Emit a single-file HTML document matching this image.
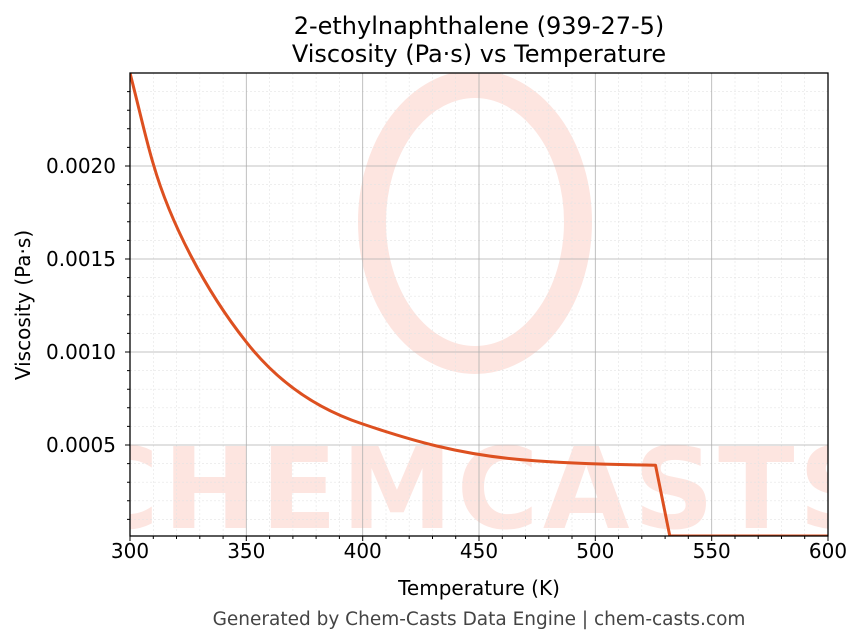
<!DOCTYPE html>
<html><head><meta charset="utf-8"><style>
body{margin:0;background:#fff;}
svg{display:block;font-family:"DejaVu Sans","Liberation Sans",sans-serif;}
</style></head><body>
<svg width="863" height="644" viewBox="0 0 863 644">
<defs><clipPath id="c"><rect x="130" y="73" width="698" height="463"/></clipPath></defs>
<g clip-path="url(#c)">
<ellipse cx="475" cy="222" rx="103" ry="138" fill="none" stroke="#fde5e0" stroke-width="28"/>
<text x="480" y="528" text-anchor="middle" font-size="112" font-weight="bold" fill="#fde5e0" letter-spacing="4">CHEMCASTS</text>
</g>
<g stroke="#e4e4e4" stroke-width="0.6" stroke-dasharray="2,2">
<path d="M153.3 73V536M176.5 73V536M199.8 73V536M223.1 73V536M269.6 73V536M292.9 73V536M316.1 73V536M339.4 73V536M386 73V536M409.2 73V536M432.5 73V536M455.7 73V536M502.3 73V536M525.5 73V536M548.8 73V536M572 73V536M618.6 73V536M641.8 73V536M665.1 73V536M688.3 73V536M735 73V536M758.2 73V536M781.5 73V536M804.7 73V536"/>
<path d="M130 519.4H828M130 500.8H828M130 482.2H828M130 463.6H828M130 426.4H828M130 407.8H828M130 389.2H828M130 370.6H828M130 333.4H828M130 314.8H828M130 296.2H828M130 277.6H828M130 240.4H828M130 221.8H828M130 203.2H828M130 184.6H828M130 147.4H828M130 128.8H828M130 110.2H828M130 91.6H828"/>
</g>
<g stroke="#b0b0b0" stroke-width="0.8">
<path d="M246.3 73V536M362.7 73V536M479 73V536M595.3 73V536M711.7 73V536"/>
<path d="M130 445H828M130 352H828M130 259H828M130 166H828"/>
</g>
<path clip-path="url(#c)" fill="none" stroke="#dd5020" stroke-width="3" stroke-linejoin="round"
d="M130,73 C140,112 146,140 153.3,164 C170,222 205,290 246.3,342 C280,385 320,410 362.7,424 C410,440 460,455 525.5,460 C560,463 600,464.5 655.5,465.2 L669.8,536 L828,536"/>
<rect x="130" y="73" width="698" height="463" fill="none" stroke="#000" stroke-width="1.3"/>
<g stroke="#000" stroke-width="1">
<path d="M130 536v5M246.3 536v5M362.7 536v5M479 536v5M595.3 536v5M711.7 536v5M828 536v5"/>
<path d="M153.3 536v3M176.5 536v3M199.8 536v3M223.1 536v3M269.6 536v3M292.9 536v3M316.1 536v3M339.4 536v3M386 536v3M409.2 536v3M432.5 536v3M455.7 536v3M502.3 536v3M525.5 536v3M548.8 536v3M572 536v3M618.6 536v3M641.8 536v3M665.1 536v3M688.3 536v3M735 536v3M758.2 536v3M781.5 536v3M804.7 536v3"/>
<path d="M125 445h5M125 352h5M125 259h5M125 166h5"/>
<path d="M127 519.4h3M127 500.8h3M127 482.2h3M127 463.6h3M127 426.4h3M127 407.8h3M127 389.2h3M127 370.6h3M127 333.4h3M127 314.8h3M127 296.2h3M127 277.6h3M127 240.4h3M127 221.8h3M127 203.2h3M127 184.6h3M127 147.4h3M127 128.8h3M127 110.2h3M127 91.6h3"/>
</g>
<g font-size="20" fill="#000">
<g text-anchor="middle">
<text x="130" y="558">300</text><text x="246.3" y="558">350</text><text x="362.7" y="558">400</text><text x="479" y="558">450</text><text x="595.3" y="558">500</text><text x="711.7" y="558">550</text><text x="828" y="558">600</text>
</g>
<g text-anchor="end">
<text x="116" y="452">0.0005</text><text x="116" y="359">0.0010</text><text x="116" y="266">0.0015</text><text x="116" y="173">0.0020</text>
</g>
<text x="479" y="595" text-anchor="middle">Temperature (K)</text>
<text transform="translate(30,305) rotate(-90)" text-anchor="middle">Viscosity (Pa·s)</text>
</g>
<text x="479" y="34" text-anchor="middle" font-size="24">2-ethylnaphthalene (939-27-5)</text>
<text x="479" y="62" text-anchor="middle" font-size="24">Viscosity (Pa·s) vs Temperature</text>
<text x="479" y="625" text-anchor="middle" font-size="18.5" fill="#444">Generated by Chem-Casts Data Engine | chem-casts.com</text>
</svg>
</body></html>
